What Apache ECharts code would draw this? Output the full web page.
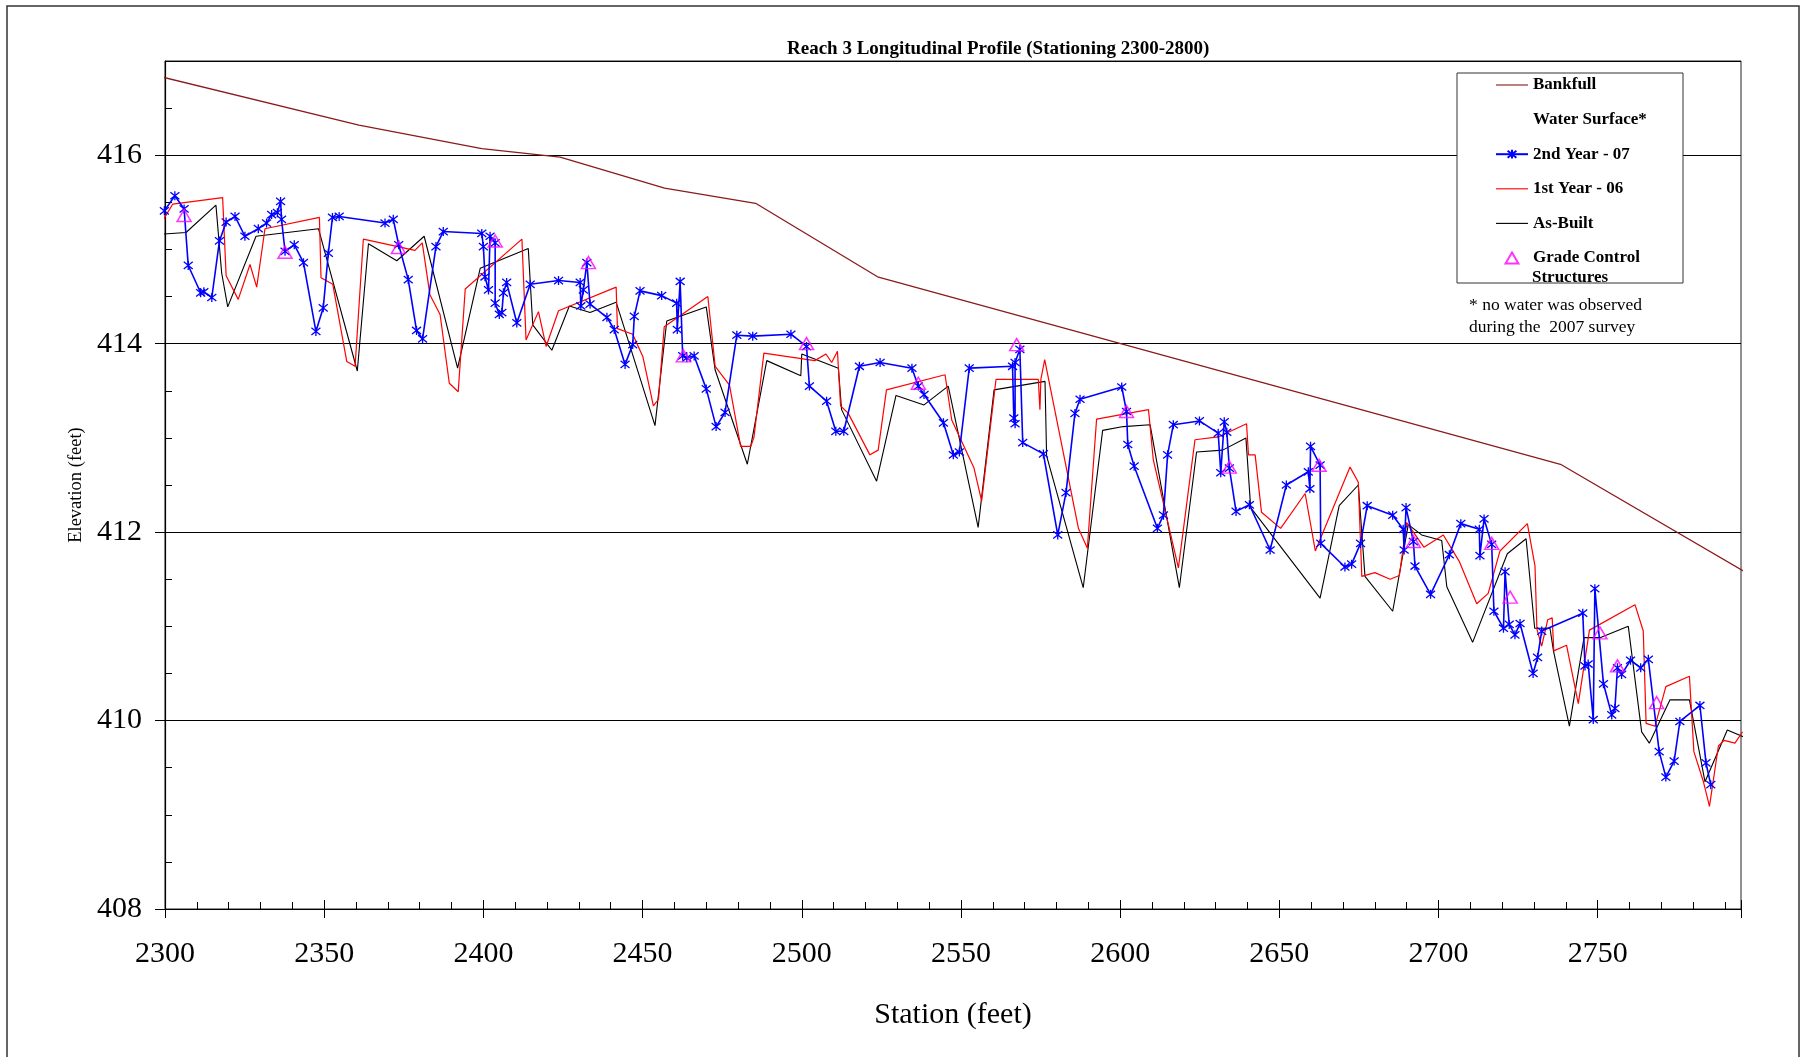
<!DOCTYPE html>
<html><head><meta charset="utf-8">
<script src="https://cdn.jsdelivr.net/npm/echarts@6/dist/echarts.min.js"></script>
<style>html,body{margin:0;padding:0;background:#fff}#c{width:1803px;height:1057px}</style>
</head><body><div id="c"></div>
<script>
// ---- data ----
const bankfullStation = [2297.9, 2360.9, 2399.5, 2424.1, 2456.9, 2485.5, 2523.8, 2738.3, 2797.2];
const bankfullElev = [416.84, 416.32, 416.07, 415.98, 415.65, 415.49, 414.71, 412.72, 411.56];

const year2Station = [2299.8, 2303.1, 2306.0, 2307.3, 2311.2, 2312.2, 2314.7, 2317.1, 2319.2, 2322.0,
  2325.1, 2329.3, 2331.9, 2333.5, 2335.3, 2336.3, 2336.6, 2337.7, 2340.6, 2343.5,
  2347.4, 2349.7, 2351.3, 2352.6, 2354.7, 2369.1, 2371.7, 2373.4, 2376.4, 2379.0,
  2380.9, 2385.1, 2387.4, 2399.5, 2400.0, 2400.5, 2401.6, 2402.1, 2403.7, 2403.7,
  2405.0, 2405.8, 2406.3, 2407.3, 2410.5, 2414.7, 2423.6, 2430.4, 2430.6, 2431.4,
  2432.5, 2433.5, 2438.8, 2441.1, 2444.5, 2446.9, 2447.4, 2449.2, 2456.0, 2460.7,
  2460.9, 2461.8, 2462.6, 2463.9, 2466.2, 2470.0, 2473.1, 2475.9, 2479.6, 2484.6,
  2496.6, 2501.5, 2502.4, 2507.8, 2510.7, 2513.2, 2518.1, 2524.6, 2534.6, 2536.6,
  2538.4, 2544.5, 2547.6, 2549.5, 2552.6, 2566.2, 2566.6, 2567.0, 2567.0, 2568.5,
  2569.4, 2575.9, 2580.4, 2583.0, 2585.8, 2587.4, 2600.5, 2602.0, 2602.4, 2604.4,
  2611.7, 2613.6, 2614.9, 2616.7, 2624.9, 2630.8, 2631.6, 2632.7, 2633.5, 2634.3,
  2636.4, 2640.6, 2647.1, 2652.2, 2659.1, 2659.6, 2659.8, 2662.8, 2663.0, 2670.6,
  2672.7, 2675.5, 2677.6, 2685.6, 2688.9, 2689.2, 2689.8, 2692.1, 2692.6, 2697.5,
  2703.4, 2707.0, 2712.8, 2713.0, 2714.3, 2716.7, 2717.4, 2720.4, 2720.9, 2722.2,
  2724.0, 2725.6, 2729.7, 2731.1, 2732.4, 2745.3, 2746.0, 2747.0, 2748.6, 2749.1,
  2751.8, 2754.4, 2755.4, 2756.2, 2757.5, 2760.3, 2763.5, 2765.9, 2769.3, 2771.4,
  2774.0, 2775.8, 2782.1, 2784.0, 2785.5];
const year2Elev = [415.41, 415.57, 415.43, 414.83, 414.54, 414.55, 414.49, 415.09, 415.29, 415.35,
  415.14, 415.22, 415.28, 415.37, 415.39, 415.51, 415.32, 414.98, 415.05, 414.86,
  414.13, 414.38, 414.96, 415.34, 415.35, 415.28, 415.32, 415.05, 414.68, 414.14,
  414.05, 415.03, 415.19, 415.17, 415.03, 414.71, 414.57, 415.14, 415.07, 414.43,
  414.31, 414.33, 414.54, 414.65, 414.22, 414.63, 414.67, 414.65, 414.40, 414.57,
  414.86, 414.42, 414.28, 414.15, 413.78, 413.99, 414.29, 414.56, 414.51, 414.43,
  414.15, 414.66, 413.87, 413.85, 413.87, 413.52, 413.12, 413.27, 414.09, 414.08,
  414.10, 413.97, 413.55, 413.39, 413.07, 413.07, 413.76, 413.80, 413.74, 413.55,
  413.46, 413.16, 412.82, 412.85, 413.74, 413.76, 413.21, 413.15, 413.80, 413.94,
  412.95, 412.83, 411.97, 412.42, 413.26, 413.41, 413.54, 413.28, 412.93, 412.70,
  412.04, 412.18, 412.82, 413.14, 413.18, 413.05, 412.63, 413.17, 413.06, 412.68,
  412.22, 412.29, 411.81, 412.50, 412.64, 412.46, 412.91, 412.71, 411.88, 411.63,
  411.66, 411.88, 412.28, 412.18, 412.03, 411.81, 412.26, 411.90, 411.64, 411.34,
  411.76, 412.09, 412.03, 411.75, 412.14, 411.87, 411.16, 410.98, 411.58, 411.02,
  410.91, 411.03, 410.50, 410.67, 410.95, 411.14, 410.58, 410.60, 410.01, 411.40,
  410.39, 410.06, 410.13, 410.56, 410.49, 410.64, 410.56, 410.65, 409.67, 409.40,
  409.57, 409.99, 410.16, 409.55, 409.32];

const year1Station = [2298.4, 2299.0, 2302.4, 2318.1, 2319.2, 2323.0, 2326.7, 2328.8, 2331.4, 2348.5,
  2349.0, 2352.7, 2357.1, 2359.7, 2362.3, 2378.5, 2380.8, 2383.2, 2386.4, 2389.3,
  2392.1, 2394.3, 2412.1, 2413.4, 2417.3, 2419.7, 2423.6, 2441.7, 2442.1, 2446.9,
  2450.1, 2453.4, 2455.0, 2456.8, 2470.5, 2472.8, 2477.3, 2480.8, 2484.0, 2485.0,
  2488.1, 2504.1, 2507.6, 2509.4, 2511.2, 2512.2, 2514.6, 2521.4, 2524.0, 2526.6,
  2545.0, 2547.1, 2554.1, 2556.5, 2561.0, 2574.3, 2574.8, 2575.1, 2576.3, 2586.9,
  2589.7, 2592.6, 2608.9, 2610.4, 2618.3, 2623.5, 2630.8, 2639.7, 2640.3, 2642.4,
  2644.4, 2650.4, 2658.1, 2661.3, 2672.2, 2674.8, 2675.9, 2680.0, 2684.8, 2687.7,
  2690.0, 2695.4, 2701.5, 2706.5, 2712.0, 2715.6, 2719.3, 2727.9, 2730.3, 2730.9,
  2732.4, 2734.3, 2735.7, 2736.2, 2740.2, 2743.9, 2747.4, 2761.7, 2764.3, 2765.2,
  2768.0, 2771.4, 2778.8, 2780.2, 2783.2, 2785.1, 2787.9, 2789.7, 2793.1, 2795.5];
const year1Elev = [415.33, 415.29, 415.48, 415.55, 414.72, 414.47, 414.84, 414.60, 415.22, 415.34,
  414.70, 414.63, 413.81, 413.76, 415.11, 414.99, 415.07, 414.52, 414.31, 413.58,
  413.49, 414.58, 415.11, 414.04, 414.34, 413.97, 414.35, 414.60, 414.16, 414.10,
  413.86, 413.34, 413.41, 414.18, 414.50, 413.76, 413.56, 412.91, 412.91, 413.01,
  413.90, 413.82, 413.89, 413.80, 413.92, 413.34, 413.26, 412.82, 412.87, 413.51,
  413.67, 413.19, 412.68, 412.33, 413.62, 413.62, 413.30, 413.62, 413.83, 412.04,
  411.83, 413.20, 413.30, 412.77, 411.62, 412.98, 413.01, 413.15, 412.82, 412.82,
  412.21, 412.04, 412.41, 411.80, 412.69, 412.53, 411.53, 411.57, 411.50, 411.54,
  412.10, 411.84, 411.97, 411.69, 411.24, 411.35, 411.80, 412.09, 411.64, 410.97,
  410.79, 411.07, 411.09, 410.74, 410.80, 410.18, 410.96, 411.23, 410.95, 409.97,
  409.94, 410.36, 410.47, 409.67, 409.35, 409.09, 409.73, 409.79, 409.76, 409.88];

const asBuiltStation = [2298.1, 2306.6, 2316.0, 2317.8, 2319.7, 2328.6, 2348.2, 2360.4, 2363.9, 2372.8,
  2381.4, 2391.9, 2399.0, 2414.1, 2415.5, 2421.5, 2427.0, 2433.5, 2441.7, 2453.9,
  2457.6, 2470.0, 2472.8, 2482.9, 2489.0, 2499.7, 2500.0, 2511.5, 2512.5, 2523.5,
  2529.6, 2538.4, 2546.0, 2555.4, 2560.4, 2576.4, 2576.9, 2588.4, 2594.5, 2601.0,
  2609.4, 2618.6, 2624.0, 2632.2, 2639.5, 2641.0, 2662.8, 2668.8, 2674.8, 2676.9,
  2685.6, 2690.5, 2694.7, 2701.0, 2702.6, 2710.7, 2721.6, 2727.5, 2730.2, 2735.0,
  2736.1, 2741.1, 2745.7, 2750.7, 2759.6, 2763.8, 2766.2, 2772.7, 2778.8, 2783.7,
  2790.7, 2797.0];
const asBuiltElev = [415.16, 415.18, 415.47, 414.75, 414.39, 415.14, 415.22, 413.71, 415.06, 414.88,
  415.14, 413.74, 414.80, 415.01, 414.20, 413.93, 414.40, 414.33, 414.44, 413.13,
  414.24, 414.39, 413.72, 412.72, 413.82, 413.66, 413.89, 413.74, 413.30, 412.54,
  413.45, 413.35, 413.55, 412.05, 413.51, 413.60, 412.81, 411.41, 413.08, 413.12,
  413.14, 411.41, 412.85, 412.87, 413.00, 412.26, 411.30, 412.28, 412.50, 411.53,
  411.16, 412.08, 411.97, 411.91, 411.42, 410.83, 411.77, 411.93, 410.98, 410.98,
  410.74, 409.94, 410.88, 410.88, 411.00, 409.88, 409.76, 410.22, 410.22, 409.35,
  409.90, 409.81];

const gradeStation = [2306.0, 2337.7, 2373.3, 2403.7, 2433.0, 2462.8, 2501.5, 2536.6, 2567.5, 2602.0,
  2634.3, 2662.5, 2692.1, 2716.7, 2722.5, 2750.7, 2756.2, 2768.5];
const gradeElev = [415.36, 414.97, 415.02, 415.09, 414.86, 413.87, 414.00, 413.58, 413.99, 413.28,
  412.69, 412.71, 411.90, 411.88, 411.31, 410.93, 410.58, 410.19];

const xTicks = {min: 2300, max: 2795, interval: 50};
const yTicks = {min: 408, max: 417, interval: 2};
const titleText = 'Reach 3 Longitudinal Profile (Stationing 2300-2800)';
const noteLines = ['* no water was observed', 'during the  2007 survey'];

// ---- chart ----
const FONT = '"Liberation Serif", "Times New Roman", serif';
const pairs = (xs, ys) => xs.map((x, i) => [x, ys[i]]);
const ASTER = 'path://M5,0L5,10M1,1L9,9M9,1L1,9';
const LINE_ICON = 'path://M0,0L40,0L40,1.4L0,1.4Z';
const TRI_ICON = 'path://M7,0L14,12L0,12Z';

const chart = echarts.init(document.getElementById('c'), null, {renderer: 'canvas'});
const option = {
  animation: false,
  backgroundColor: '#fff',
  title: {
    text: titleText, left: 787, top: 40, padding: 0,
    textStyle: {fontFamily: FONT, fontWeight: 'bold', fontSize: 19, color: '#000'}
  },
  grid: {left: 165, top: 61, width: 1576, height: 848, show: true, borderColor: '#222', borderWidth: 1, backgroundColor: 'transparent'},
  xAxis: [{
    type: 'value', min: xTicks.min, max: xTicks.max, interval: xTicks.interval,
    name: 'Station (feet)', nameLocation: 'middle', nameGap: 91,
    nameTextStyle: {fontFamily: FONT, fontSize: 30, color: '#000'},
    axisLine: {lineStyle: {color: '#000', width: 1.2}},
    axisTick: {inside: true, length: 9, lineStyle: {color: '#000'}},
    minorTick: {show: true, splitNumber: 5, length: 7, lineStyle: {color: '#000'}},
    axisLabel: {fontFamily: FONT, fontSize: 30, color: '#000', margin: 30, showMaxLabel: false,
      formatter: v => String(v)},
    splitLine: {show: false}
  }, {
    type: 'value', min: xTicks.min, max: xTicks.max, interval: xTicks.interval, position: 'bottom',
    axisLine: {show: false}, axisLabel: {show: false}, splitLine: {show: false},
    axisTick: {inside: false, length: 9, lineStyle: {color: '#000'}}
  }],
  yAxis: [{
    type: 'value', min: yTicks.min, max: yTicks.max, interval: yTicks.interval,
    name: 'Elevation (feet)', nameLocation: 'middle', nameGap: 78, nameRotate: 90,
    nameTextStyle: {fontFamily: FONT, fontSize: 18.5, color: '#000'},
    axisLine: {show: true, lineStyle: {color: '#000', width: 1.2}},
    axisTick: {show: true, inside: false, length: 10, lineStyle: {color: '#000'}},
    axisLabel: {fontFamily: FONT, fontSize: 30, color: '#000', margin: 23, showMaxLabel: false,
      formatter: v => String(v)},
    splitLine: {show: true, lineStyle: {color: '#000', width: 1}}
  }, {
    type: 'value', min: yTicks.min, max: yTicks.max, interval: 0.5, position: 'left',
    axisLine: {show: false}, axisLabel: {show: false}, splitLine: {show: false},
    axisTick: {show: true, inside: true, length: 7, lineStyle: {color: '#000'}}
  }],
  legend: {
    orient: 'vertical', left: 1495, top: 75, padding: 0, z: 20,
    itemWidth: 32, itemHeight: 11, itemGap: 14.6, selectedMode: false,
    textStyle: {fontFamily: FONT, fontWeight: 'bold', fontSize: 17, color: '#000', lineHeight: 20},
    formatter: n => n === 'Grade Control Structures' ? 'Grade Control' : n,
    data: [
      {name: 'Bankfull', icon: LINE_ICON},
      {name: 'Water Surface*', icon: 'none'},
      '2nd Year - 07',
      {name: '1st Year - 06', icon: LINE_ICON},
      {name: 'As-Built', icon: LINE_ICON},
      {name: 'Grade Control Structures', icon: TRI_ICON}
    ]
  },
  graphic: [
    {type: 'rect', z: 1, silent: true, shape: {x: 7, y: 6, width: 1792, height: 1100},
     style: {fill: 'none', stroke: '#333', lineWidth: 1.5}},
    {type: 'rect', z: 10, silent: true, shape: {x: 1457, y: 73, width: 226, height: 210},
     style: {fill: '#fff', stroke: '#333', lineWidth: 1}},
    {type: 'text', z: 15, silent: true, x: 1532, y: 278,
     style: {text: 'Structures', font: 'bold 17px ' + FONT, fill: '#000', textVerticalAlign: 'middle'}},
    {type: 'text', z: 15, silent: true, x: 1469, y: 305,
     style: {text: noteLines[0], font: '17.5px ' + FONT, fill: '#000', textVerticalAlign: 'middle'}},
    {type: 'text', z: 15, silent: true, x: 1469, y: 327,
     style: {text: noteLines[1], font: '17.5px ' + FONT, fill: '#000', textVerticalAlign: 'middle'}}
  ],
  series: [
    {name: 'Bankfull', type: 'line', clip: false, symbol: 'none', data: pairs(bankfullStation, bankfullElev),
     lineStyle: {color: '#8b1a1a', width: 1.3}, itemStyle: {color: '#8b1a1a'}},
    {name: 'Water Surface*', type: 'line', data: [], symbol: 'none', lineStyle: {opacity: 0}, itemStyle: {color: '#fff'}},
    {name: 'As-Built', type: 'line', clip: false, symbol: 'none', data: pairs(asBuiltStation, asBuiltElev),
     lineStyle: {color: '#000', width: 1.1}, itemStyle: {color: '#000'}},
    {name: '1st Year - 06', type: 'line', clip: false, symbol: 'none', data: pairs(year1Station, year1Elev),
     lineStyle: {color: '#ff0000', width: 1.2}, itemStyle: {color: '#ff0000'}},
    {name: '2nd Year - 07', type: 'line', clip: false, symbol: ASTER, symbolSize: 9, showSymbol: true, showAllSymbol: true,
     data: pairs(year2Station, year2Elev),
     lineStyle: {color: '#0000ff', width: 1.6},
     itemStyle: {color: '#0000ff', borderColor: '#0000ff', borderWidth: 1.3}},
    {name: 'Grade Control Structures', type: 'scatter', clip: false, symbol: 'triangle', symbolSize: [14, 12],
     data: pairs(gradeStation, gradeElev), z: 5,
     itemStyle: {color: 'rgba(255,0,255,0)', borderColor: '#ff00ff', borderWidth: 1.5}}
  ]
};
chart.setOption(option);
</script>
</body></html>
